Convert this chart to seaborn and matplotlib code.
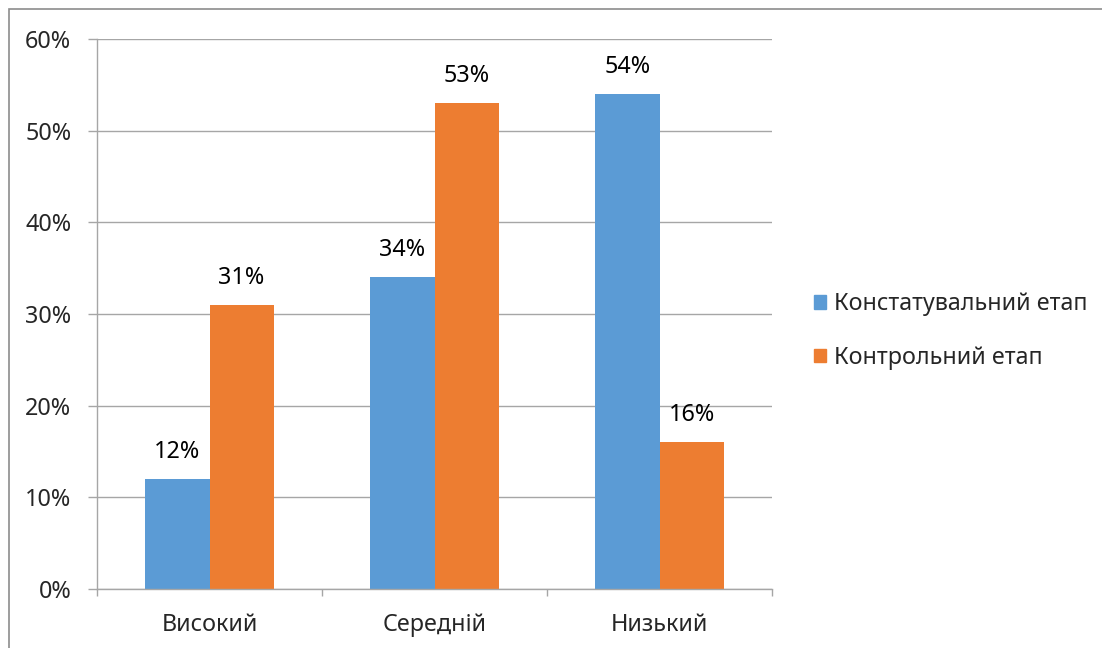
import matplotlib
matplotlib.use("Agg")
import matplotlib.pyplot as plt
import matplotlib.patches as mpatches
import pandas as pd
import seaborn as sns
from matplotlib.ticker import FixedLocator, PercentFormatter

# data
levels = ["Високий", "Середній", "Низький"]
stage_names = ["Констатувальний етап", "Контрольний етап"]
ascertaining = [0.12, 0.34, 0.54]
control = [0.31, 0.53, 0.16]
colors = ["#5B9BD5", "#ED7D31"]

df = pd.DataFrame({
    "level": levels * 2,
    "stage": [stage_names[0]] * 3 + [stage_names[1]] * 3,
    "value": ascertaining + control,
})

sns.set_theme(style="white")
plt.rcParams["font.family"] = ["Noto Sans", "DejaVu Sans"]
FS = 16.8
GRID = "#A6A6A6"

fig = plt.figure(figsize=(11.02, 6.48), dpi=100)
ax = fig.add_axes([97 / 1102, 59 / 648, 675 / 1102, 550 / 648])

sns.barplot(data=df, x="level", y="value", hue="stage", palette=colors,
            width=0.57, saturation=1, ax=ax, legend=False, edgecolor="none")

for cont in ax.containers:
    labels = [f"{v * 100:.0f}%" for v in cont.datavalues]
    ax.bar_label(cont, labels=labels, padding=11, fontsize=FS, color="black")

ax.set_ylim(0, 0.6)
ax.set_xlim(-0.5, 2.5)
ax.yaxis.set_major_formatter(PercentFormatter(1.0, decimals=0))
ax.set_yticks([i / 10 for i in range(7)])
ax.yaxis.grid(True, color=GRID, linewidth=1)
ax.set_axisbelow(True)
ax.set_xlabel("")
ax.set_ylabel("")

for side in ["top", "right"]:
    ax.spines[side].set_visible(False)
for side in ["left", "bottom"]:
    ax.spines[side].set_color(GRID)
    ax.spines[side].set_linewidth(1)

ax.tick_params(axis="y", length=6.5, color=GRID, width=1, labelsize=FS, pad=12, left=True)
ax.tick_params(axis="x", which="major", length=0, labelsize=FS, pad=17)
ax.xaxis.set_minor_locator(FixedLocator([-0.5, 0.5, 1.5, 2.5]))
ax.tick_params(axis="x", which="minor", length=5, color=GRID, width=1, bottom=True)

handles = [mpatches.Patch(color=c, label=n) for c, n in zip(colors, stage_names)]
fig.legend(handles=handles, loc="center left", bbox_to_anchor=(793 / 1102, 1 - 331 / 648),
           frameon=False, fontsize=FS, handlelength=0.5, handleheight=0.5,
           handletextpad=0.35, labelspacing=1.25)

# outer chart border
fig.patches.append(mpatches.Rectangle((9 / 1102, -0.1), 1.2, 1 - 9 / 648 + 0.1,
                                      transform=fig.transFigure, fill=False,
                                      edgecolor="#8C8C8C", linewidth=1.2))

fig.savefig("out.png", dpi=100)
